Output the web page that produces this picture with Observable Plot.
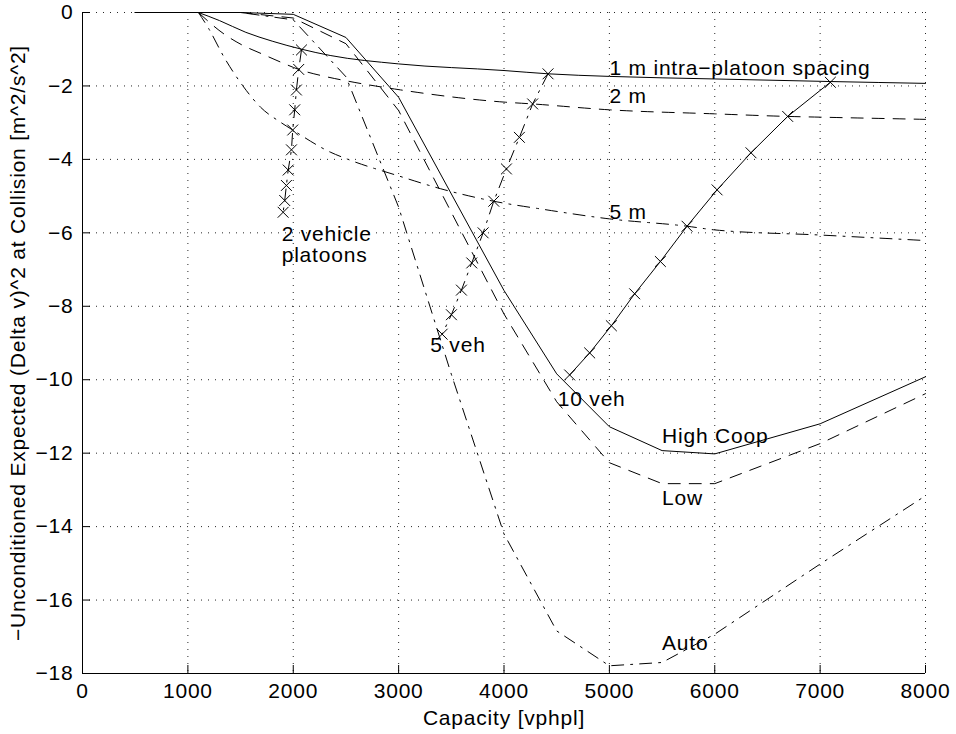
<!DOCTYPE html>
<html><head><meta charset="utf-8">
<script src="https://cdn.jsdelivr.net/npm/d3@7"></script>
<script src="https://cdn.jsdelivr.net/npm/@observablehq/plot@0.6"></script>
<style>body{margin:0;background:#fff;}</style>
</head><body><div id="chart"></div>
<script>
// ---- tick values ----
const xTicks = [0, 1000, 2000, 3000, 4000, 5000, 6000, 7000, 8000];
const yTicks = [0, -2, -4, -6, -8, -10, -12, -14, -16, -18];

// ---- cooperation curves (capacity, value) ----
const capHigh = [500, 1500, 2000, 2500, 3000, 4000, 4500, 5000, 5500, 6000, 7000, 8000];
const valHigh = [0, 0, -0.05, -0.68, -2.31, -7.57, -9.84, -11.28, -11.93, -12.02, -11.2, -9.92];
const capLow = [500, 1500, 2000, 2500, 3000, 4000, 4500, 5000, 5500, 6000, 7000, 8000];
const valLow = [0, 0, -0.15, -0.85, -2.67, -8.21, -10.6, -12.26, -12.83, -12.83, -11.74, -10.38];
const capAuto = [500, 1500, 2000, 2500, 3000, 3500, 4000, 4500, 5000, 5500, 6000, 7000, 8000];
const valAuto = [0, 0, -0.2, -1.75, -5.3, -9.85, -14.2, -16.84, -17.79, -17.7, -16.93, -15.02, -13.16];

// ---- intra-platoon spacing curves ----
const cap1m = [1100, 1300, 1550, 1800, 2080, 2350, 3000, 4000, 4420, 5000, 6000, 7100, 8000];
const val1m = [0, -0.22, -0.54, -0.78, -1.0, -1.17, -1.4, -1.58, -1.67, -1.74, -1.81, -1.88, -1.93];
const cap2m = [1100, 1340, 1505, 1705, 1880, 2052, 2300, 2520, 3000, 4000, 4272, 5000, 6000, 6692, 7000, 8000];
const val2m = [0, -0.58, -0.87, -1.13, -1.35, -1.55, -1.74, -1.87, -2.1, -2.44, -2.49, -2.65, -2.76, -2.83, -2.85, -2.91];
const cap5m = [1100, 1200, 1340, 1530, 1690, 1880, 1995, 2350, 2520, 3000, 3400, 3903, 4350, 5000, 5737, 6000, 7000, 8000];
const val5m = [0, -0.45, -1.2, -2.03, -2.58, -2.99, -3.2, -3.8, -4.0, -4.45, -4.8, -5.14, -5.35, -5.62, -5.82, -5.92, -6.06, -6.21];

// ---- platoon-size curves (markers at 1..10 m spacing) ----
const veh2Cap = [2078, 2052, 2030, 2014, 1995, 1983, 1952, 1935, 1919, 1904];
const veh2Val = [-1.02, -1.55, -2.11, -2.65, -3.2, -3.74, -4.29, -4.71, -5.12, -5.44];
const veh5Cap = [4418, 4272, 4146, 4023, 3903, 3802, 3694, 3596, 3501, 3413];
const veh5Val = [-1.67, -2.49, -3.40, -4.26, -5.14, -6.0, -6.82, -7.56, -8.23, -8.76];
const veh10Cap = [7097, 6692, 6344, 6022, 5737, 5484, 5240, 5019, 4813, 4623];
const veh10Val = [-1.90, -2.83, -3.82, -4.83, -5.82, -6.78, -7.66, -8.53, -9.27, -9.87];

// ---- annotations ----
const labelText = ["1 m intra\u2212platoon spacing", "2 m", "5 m", "2 vehicle", "platoons", "5 veh", "10 veh", "High Coop", "Low", "Auto"];
const labelCap = [5000, 5000, 5000, 1890, 1890, 3300, 4510, 5500, 5500, 5500];
const labelVal = [-1.53, -2.29, -5.45, -6.03, -6.6, -9.07, -10.52, -11.53, -13.24, -17.17];

const xTitle = "Capacity [vphpl]";
const yTitle = "\u2212Unconditioned Expected (Delta v)^2 at Collision [m^2/s^2]";

const rows = (xs, ys) => xs.map((x, i) => ({x, y: ys[i]}));
const labels = labelText.map((t, i) => ({t, x: labelCap[i], y: labelVal[i]}));

const DASH = "12,9";
const DASHDOT = "12,7,2,7";
const lineOpts = (dash) => ({x: "x", y: "y", stroke: "black", strokeWidth: 1, strokeDasharray: dash});

const W = 956, H = 734, ML = 82, MR = 31, MT = 12, MB = 61, TICK = 8;

const chart = Plot.plot({
  width: W,
  height: H,
  marginLeft: ML,
  marginRight: MR,
  marginTop: MT,
  marginBottom: MB,
  style: {fontFamily: "'Liberation Sans', Arial, Helvetica, sans-serif", fontSize: "21px", letterSpacing: "0.8px", background: "white", color: "black"},
  x: {domain: [0, 8000]},
  y: {domain: [-18, 0]},
  marks: [
    Plot.gridX(xTicks, {stroke: "black", strokeOpacity: 0.85, strokeDasharray: "1,6"}),
    Plot.gridY(yTicks, {stroke: "black", strokeOpacity: 0.85, strokeDasharray: "1,6"}),
    Plot.line(rows(capHigh, valHigh), lineOpts(null)),
    Plot.line(rows(capLow, valLow), lineOpts(DASH)),
    Plot.line(rows(capAuto, valAuto), lineOpts(DASHDOT)),
    Plot.line(rows(cap1m, val1m), {...lineOpts(null), curve: "monotone-x"}),
    Plot.line(rows(cap2m, val2m), {...lineOpts(DASH), curve: "monotone-x"}),
    Plot.line(rows(cap5m, val5m), {...lineOpts(DASHDOT), curve: "monotone-x"}),
    Plot.line(rows(veh2Cap, veh2Val), lineOpts(DASHDOT)),
    Plot.line(rows(veh5Cap, veh5Val), lineOpts(DASHDOT)),
    Plot.line(rows(veh10Cap, veh10Val), lineOpts(null)),
    Plot.dot(rows(veh2Cap, veh2Val), {x: "x", y: "y", symbol: "times", r: 5, stroke: "black", strokeWidth: 1}),
    Plot.dot(rows(veh5Cap, veh5Val), {x: "x", y: "y", symbol: "times", r: 5, stroke: "black", strokeWidth: 1}),
    Plot.dot(rows(veh10Cap, veh10Val), {x: "x", y: "y", symbol: "times", r: 5, stroke: "black", strokeWidth: 1}),
    Plot.text(labels, {x: "x", y: "y", text: "t", textAnchor: "start", lineAnchor: "middle", fill: "black"}),
    // axis lines
    Plot.ruleY([-18], {stroke: "black", strokeWidth: 1}),
    Plot.ruleX([0], {stroke: "black", strokeWidth: 1}),
    // inward tick marks
    Plot.tickX(xTicks, {x: (d) => d, stroke: "black", strokeWidth: 1, insetTop: H - MT - MB - TICK}),
    Plot.tickY(yTicks, {y: (d) => d, stroke: "black", strokeWidth: 1, insetRight: W - ML - MR - TICK}),
    // tick labels
    Plot.axisX(xTicks, {tickSize: 0, tickPadding: 10, tickFormat: (d) => String(d), label: null}),
    Plot.axisY(yTicks, {tickSize: 0, tickPadding: 9, tickFormat: d3.format("d"), label: null}),
    // axis titles
    Plot.text([xTitle], {frameAnchor: "bottom", dy: 45, lineAnchor: "middle", textAnchor: "middle", text: (d) => d, fill: "black"}),
    Plot.text([yTitle], {frameAnchor: "left", dx: -64, rotate: -90, lineAnchor: "middle", textAnchor: "middle", text: (d) => d, fill: "black"})
  ]
});
document.getElementById("chart").appendChild(chart);
</script>
</body></html>
